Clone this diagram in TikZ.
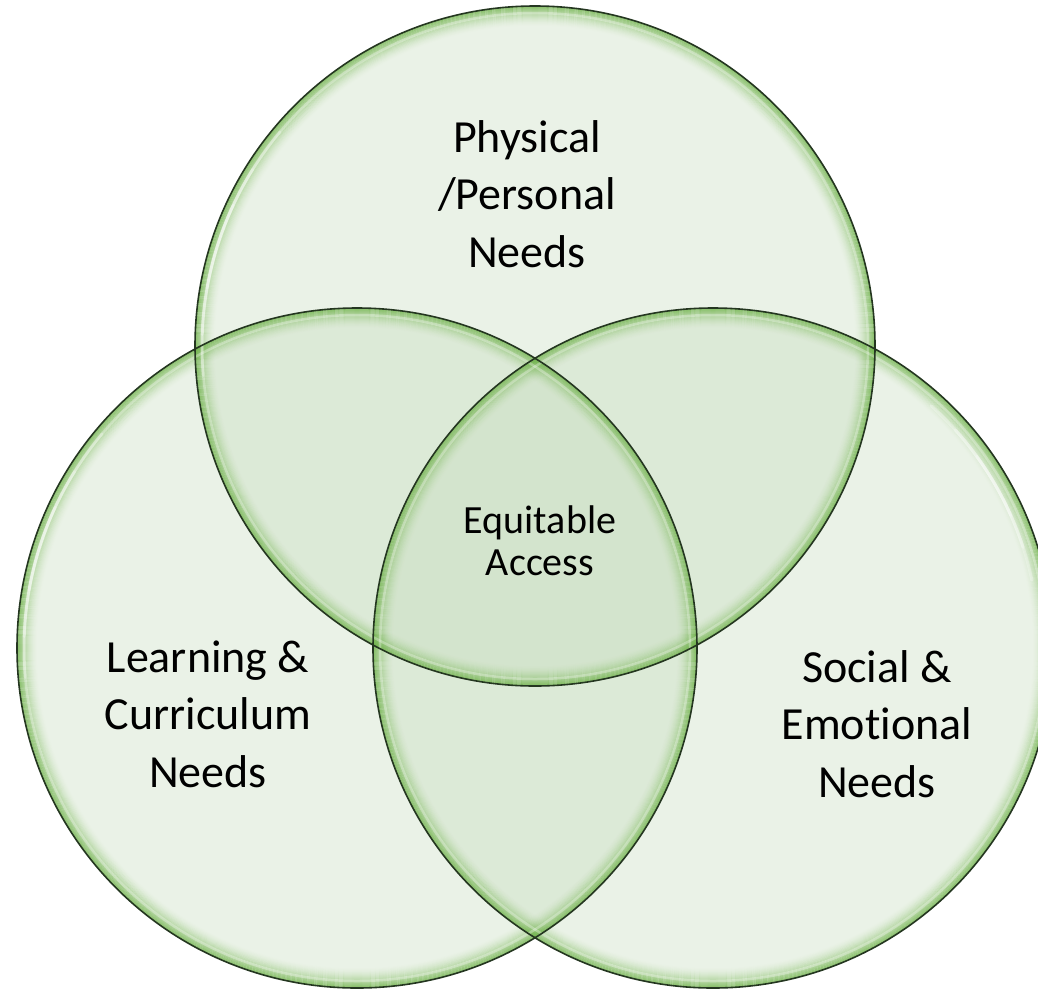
\documentclass[tikz,border=0pt]{standalone}
\usepackage{fontspec}
\setmainfont{Carlito}[Ligatures=NoCommon]
\definecolor{bfill}{RGB}{195,218,186}
\definecolor{bglow}{RGB}{110,178,72}
\definecolor{bline}{RGB}{36,54,32}
\tikzset{
  bigtext/.style={font=\fontsize{46}{57.5}\selectfont, align=center, anchor=base, text=black},
  midtext/.style={font=\fontsize{40}{42}\selectfont, align=center, anchor=base, text=black},
  hilite/.style={white, draw opacity=0.28, line width=3pt, line cap=round}
}
\begin{document}
\begin{tikzpicture}[x=1pt,y=-1pt]
\useasboundingbox (0,0) rectangle (1038,989);
\clip (0,0) rectangle (1038,989);
\coordinate (ct) at (535,346);
\coordinate (cl) at (357,648);
\coordinate (cr) at (713,648);
% translucent fills
\foreach \c in {ct,cl,cr}
  \fill[bfill, fill opacity=0.35] (\c) circle[radius=340pt];
% inner green glow
\foreach \c in {ct,cl,cr}{
  \foreach \k in {0,...,19}{
    \pgfmathsetmacro\a{0.75*(1-\k/20)^1.7}
    \draw[bglow, draw opacity=\a, line width=1.05pt] (\c) circle[radius=339.5pt-\k pt];
  }
}
% white highlights
\foreach \c in {ct,cl,cr}
  \draw[white, draw opacity=0.3, line width=2.5pt] (\c) circle[radius=333pt];
\foreach \s/\e in {140/185,148/178,155/170}{
  \draw[hilite] ([shift={(\s:333pt)}]ct) arc[start angle=\s, end angle=\e, radius=333pt];
  \draw[hilite] ([shift={(\s:333pt)}]cl) arc[start angle=\s, end angle=\e, radius=333pt];
}
\foreach \s/\e in {12/48,18/42,24/36}
  \draw[hilite] ([shift={(\s:326pt)}]cr) arc[start angle=\s, end angle=\e, radius=326pt];
% outlines
\foreach \c in {ct,cl,cr}
  \draw[bline, line width=1.6pt] (\c) circle[radius=340pt];
% labels
\node[bigtext] (phys) at (527,267) {Physical\\/Personal\\Needs};
\node[bigtext] (learn) at (208,787) {Learning \&\\Curriculum\\Needs};
\node[bigtext] (social) at (877,797) {Social \&\\Emotional\\Needs};
\node[midtext] (equit) at (540,575) {Equitable\\Access};
\end{tikzpicture}
\end{document}
